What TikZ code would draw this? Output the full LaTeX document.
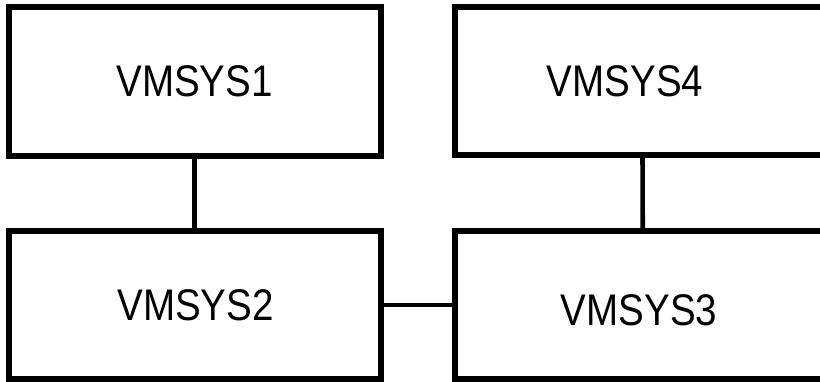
\documentclass[tikz,border=0pt]{standalone}
\usepackage{fontspec}
\newfontfamily\vmfont[FakeStretch=0.87]{Liberation Sans}

\begin{document}
\begin{tikzpicture}[
  x=0.03cm, y=-0.03cm,
  sysbox/.style={draw=black, line width=5.1pt, fill=white, rectangle,
    minimum width=11.15cm, minimum height=4.45cm, inner sep=0pt},
  syslabel/.style={inner sep=0pt, font=\vmfont\fontsize{37.8}{40}\selectfont},
  link/.style={line width=3.9pt, black}
]
\clip (0,0) rectangle (820,381);

\node[sysbox] (vm1) at (194.75,81.5) {};
\node[sysbox] (vm2) at (194.75,305) {};
\node[sysbox, minimum width=11.24cm] (vm3) at (642.75,305) {};
\node[sysbox, minimum width=11.25cm] (vm4) at (642.5,81) {};

\node[syslabel] (vm1txt) at (194.5,81.5) {VMSYS1};
\node[syslabel] (vm2txt) at (195.5,305.5) {VMSYS2};
\node[syslabel] (vm3txt) at (639,310.5) {VMSYS3};
\node[syslabel] (vm4txt) at (625,81.5) {VMSYS4};

\draw[link] (vm1.south) -- (vm2.north);
\draw[link] (vm4.south) -- (vm3.north);
\draw[link] (vm2.east) -- (vm3.west);
\end{tikzpicture}
\end{document}
